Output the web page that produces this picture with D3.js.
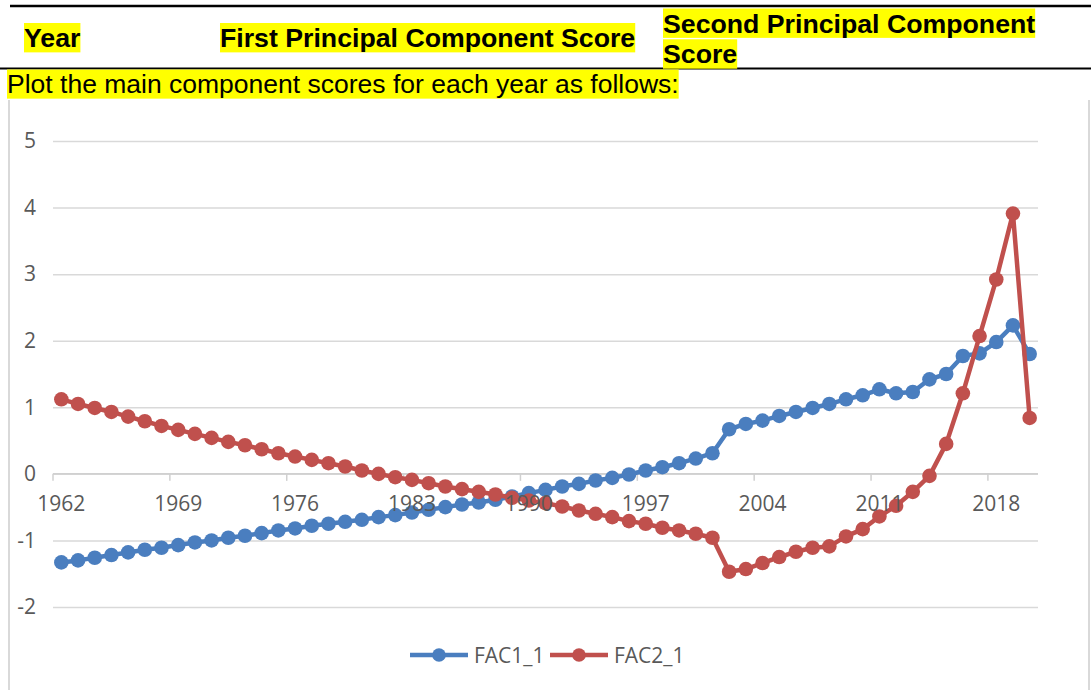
<!DOCTYPE html>
<html>
<head>
<meta charset="utf-8">
<script src="https://cdn.jsdelivr.net/npm/d3@7"></script>
<style>
  body { margin: 0; background: #fff; }
  svg { display: block; }
</style>
</head>
<body>
<div id="chart"></div>
<script>
const width = 1091;
const height = 690;

// data
const years = d3.range(1962, 2021);
const fac1 = [
  -1.33, -1.30, -1.26, -1.22, -1.18, -1.14, -1.11, -1.07, -1.03, -1.00,
  -0.96, -0.93, -0.89, -0.85, -0.82, -0.78, -0.75, -0.72, -0.69, -0.65,
  -0.62, -0.58, -0.54, -0.50, -0.46, -0.43, -0.39, -0.34, -0.29, -0.24,
  -0.19, -0.15, -0.10, -0.06, -0.01, 0.05, 0.10, 0.16, 0.23, 0.31,
  0.67, 0.75, 0.80, 0.87, 0.93, 0.99, 1.05, 1.12, 1.18, 1.27,
  1.21, 1.23, 1.42, 1.50, 1.77, 1.81, 1.98, 2.23, 1.80
];
const fac2 = [
  1.12, 1.05, 0.99, 0.93, 0.86, 0.79, 0.72, 0.66, 0.60, 0.54,
  0.48, 0.43, 0.37, 0.31, 0.26, 0.21, 0.16, 0.11, 0.05, 0.00,
  -0.05, -0.09, -0.14, -0.19, -0.23, -0.27, -0.31, -0.36, -0.40, -0.44,
  -0.49, -0.55, -0.60, -0.65, -0.71, -0.75, -0.81, -0.85, -0.90, -0.96,
  -1.47, -1.43, -1.34, -1.25, -1.17, -1.11, -1.09, -0.94, -0.83, -0.64,
  -0.48, -0.27, -0.03, 0.45, 1.21, 2.07, 2.92, 3.91, 0.84
];
const seriesNames = ["FAC1_1", "FAC2_1"];
const seriesColors = ["#4a7ebf", "#c0504d"];
const yTicks = [-2, -1, 0, 1, 2, 3, 4, 5];
const xLabelYears = years.filter((d, i) => i % 7 === 0);

const svg = d3.select("#chart")
  .append("svg")
  .attr("width", width)
  .attr("height", height);

// ---- document part above the chart ----
svg.append("line")
  .attr("x1", 10).attr("x2", width)
  .attr("y1", 6).attr("y2", 6)
  .attr("stroke", "#000").attr("stroke-width", 2.5);
svg.append("line")
  .attr("x1", 0).attr("x2", width)
  .attr("y1", 68.5).attr("y2", 68.5)
  .attr("stroke", "#000").attr("stroke-width", 2);

const docTexts = [
  { t: "Year", x: 24, top: 23, bold: true, fs: 26.7 },
  { t: "First Principal Component Score", x: 220, top: 23, bold: true, fs: 26.7 },
  { t: "Second Principal Component", x: 663, top: 8.5, bold: true, fs: 26.7 },
  { t: "Score", x: 663, top: 39.3, bold: true, fs: 26.7 },
  { t: "Plot the main component scores for each year as follows:", x: 7, top: 69.5, bold: false, fs: 26.5 }
];

docTexts.forEach(d => {
  const g = svg.append("g");
  const rect = g.append("rect").attr("fill", "#ffff00");
  const txt = g.append("text")
    .attr("x", d.x)
    .attr("y", d.top + 0.905 * d.fs)
    .attr("font-family", "'Liberation Sans', Arial, sans-serif")
    .attr("font-size", d.fs)
    .attr("font-weight", d.bold ? "bold" : "normal")
    .attr("fill", "#000")
    .text(d.t);
  const w = txt.node().getComputedTextLength();
  rect.attr("x", d.x).attr("y", d.top)
    .attr("width", w).attr("height", 1.1 * d.fs);
});

// chart frame
svg.append("line")
  .attr("x1", 9).attr("x2", 9).attr("y1", 100).attr("y2", height)
  .attr("stroke", "#d9d9d9").attr("stroke-width", 2);
svg.append("line")
  .attr("x1", 1089).attr("x2", 1089).attr("y1", 100).attr("y2", height)
  .attr("stroke", "#d9d9d9").attr("stroke-width", 2);

// ---- chart ----
const plotLeft = 53, plotRight = 1038;

const x = d3.scaleBand()
  .domain(years)
  .range([plotLeft, plotRight])
  .paddingInner(0)
  .paddingOuter(0);
const cx = d => x(d) + x.bandwidth() / 2;

const y = d3.scaleLinear()
  .domain([-2, 5])
  .range([607, 141]);

const labelFont = "'Open Sans', sans-serif";

// gridlines + y labels
const yAxis = svg.append("g")
  .attr("transform", `translate(${plotLeft},0)`)
  .call(d3.axisLeft(y).tickValues(yTicks).tickSize(-(plotRight - plotLeft)).tickPadding(17).tickFormat(d => String(d)));
yAxis.select(".domain").remove();
yAxis.selectAll(".tick line")
  .attr("stroke", "#d9d9d9").attr("stroke-width", 1.5);
yAxis.selectAll(".tick text")
  .attr("font-family", labelFont)
  .attr("font-size", 21)
  .attr("fill", "#595959");

// x axis line at zero with tick marks on category boundaries
svg.append("line")
  .attr("x1", plotLeft).attr("x2", plotRight)
  .attr("y1", y(0)).attr("y2", y(0))
  .attr("stroke", "#d0d0d0").attr("stroke-width", 1.5);
svg.selectAll(".xtick")
  .data(xLabelYears)
  .enter()
  .append("line")
  .attr("class", "xtick")
  .attr("x1", d => x(d)).attr("x2", d => x(d))
  .attr("y1", y(0)).attr("y2", y(0) + 7)
  .attr("stroke", "#d0d0d0").attr("stroke-width", 1.5);

// series
const seriesData = [fac1, fac2];
const line = d3.line()
  .x((d, i) => cx(years[i]))
  .y(d => y(d));

seriesData.forEach((vals, k) => {
  const g = svg.append("g");
  g.append("path")
    .datum(vals)
    .attr("d", line)
    .attr("fill", "none")
    .attr("stroke", seriesColors[k])
    .attr("stroke-width", 4.5)
    .attr("stroke-linejoin", "round");
  g.selectAll("circle")
    .data(vals)
    .enter()
    .append("circle")
    .attr("cx", (d, i) => cx(years[i]))
    .attr("cy", d => y(d))
    .attr("r", 7.3)
    .attr("fill", seriesColors[k]);
});

// x labels on top
const xAxis = svg.append("g")
  .attr("transform", `translate(0,${y(0)})`)
  .call(d3.axisBottom(x).tickValues(xLabelYears).tickSize(0).tickPadding(22));
xAxis.select(".domain").remove();
xAxis.selectAll(".tick text")
  .attr("font-family", labelFont)
  .attr("font-size", 21)
  .attr("fill", "#595959");

// legend
const legendItems = [
  { name: seriesNames[0], color: seriesColors[0], x: 410 },
  { name: seriesNames[1], color: seriesColors[1], x: 550 }
];
const legendY = 655;
legendItems.forEach(d => {
  svg.append("line")
    .attr("x1", d.x).attr("x2", d.x + 58)
    .attr("y1", legendY).attr("y2", legendY)
    .attr("stroke", d.color).attr("stroke-width", 4.5);
  svg.append("circle")
    .attr("cx", d.x + 29).attr("cy", legendY)
    .attr("r", 6.8).attr("fill", d.color);
  svg.append("text")
    .attr("x", d.x + 64)
    .attr("y", legendY)
    .attr("dy", "0.36em")
    .attr("font-family", labelFont)
    .attr("font-size", 21)
    .attr("fill", "#595959")
    .text(d.name);
});
</script>
</body>
</html>
